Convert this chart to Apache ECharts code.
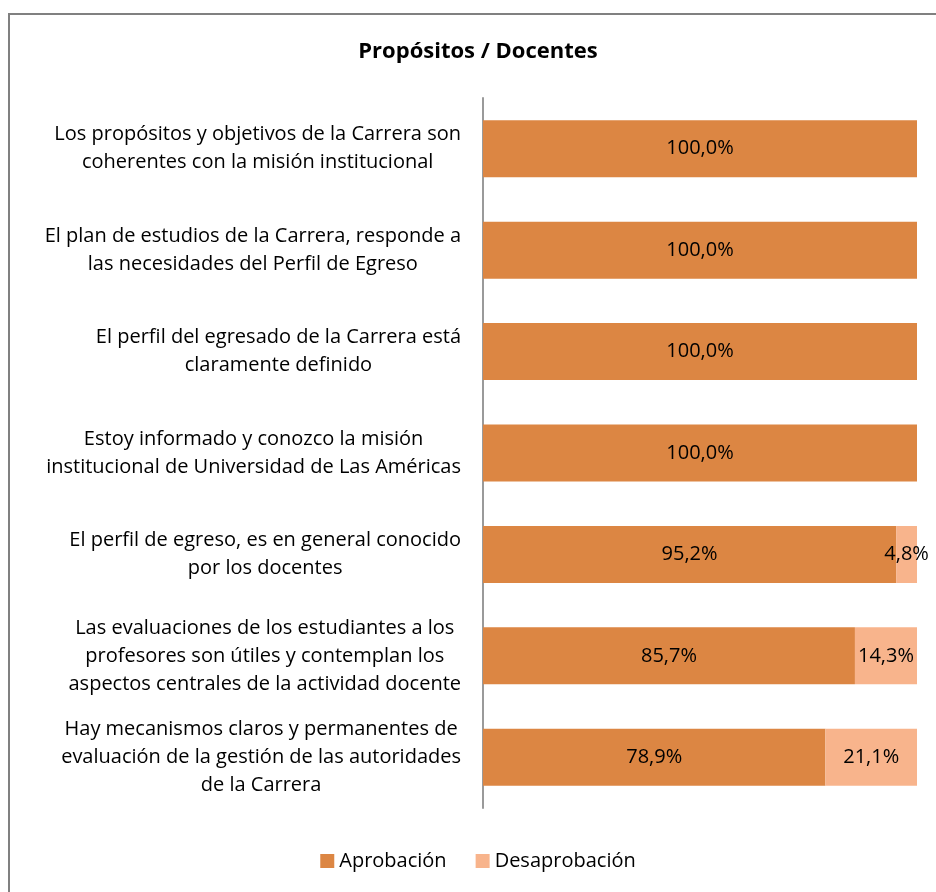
<!DOCTYPE html>
<html>
<head>
<meta charset="utf-8">
<script src="https://cdn.jsdelivr.net/npm/echarts@6/dist/echarts.min.js"></script>
<style>
  html, body { margin: 0; padding: 0; background: #fff; overflow: hidden; }
  #box {
    position: absolute; left: 8px; top: 13px;
    width: 936px; height: 890px;
    border: 2px solid #808080; background: #fff;
  }
  #chart { width: 936px; height: 890px; }
</style>
</head>
<body>
<div id="box"><div id="chart"></div></div>
<script>
// datos
const categories = [
  'Los propósitos y objetivos de la Carrera son\ncoherentes con la misión institucional',
  'El plan de estudios de la Carrera, responde a\nlas necesidades del Perfil de Egreso',
  'El perfil del egresado de la Carrera está\nclaramente definido',
  'Estoy informado y conozco la misión\ninstitucional de Universidad de Las Américas',
  'El perfil de egreso, es en general conocido\npor los docentes',
  'Las evaluaciones de los estudiantes a los\nprofesores son útiles y contemplan los\naspectos centrales de la actividad docente',
  'Hay mecanismos claros y permanentes de\nevaluación de la gestión de las autoridades\nde la Carrera'
]
const aprobacion = [100, 100, 100, 100, 95.2, 85.7, 78.9]
const desaprobacion = [0, 0, 0, 0, 4.8, 14.3, 21.1]
const seriesNames = ['Aprobación', 'Desaprobación']

const FONT = '"Open Sans", "Noto Sans", sans-serif'
const fmtPct = (v) => v.toFixed(1).replace('.', ',') + '%'

const chart = echarts.init(document.getElementById('chart'))

const barLabel = {
  show: true,
  position: 'inside',
  color: '#000',
  fontSize: 20,
  fontFamily: FONT,
  formatter: (p) => p.value > 0 ? fmtPct(p.value) : ''
}

chart.setOption({
  animation: false,
  color: ['#DC8643', '#F8B48C'],
  title: {
    text: 'Propósitos / Docentes',
    left: 'center',
    top: 21,
    textStyle: { fontFamily: FONT, fontSize: 22, fontWeight: 'bold', color: '#000' }
  },
  legend: {
    data: seriesNames,
    left: 'center',
    top: 831,
    itemWidth: 14,
    itemHeight: 14,
    itemGap: 29,
    icon: 'rect',
    textStyle: { fontFamily: FONT, fontSize: 20, color: '#000', padding: [0, 0, 0, 0] }
  },
  grid: { left: 473, right: 29, top: 83, bottom: 97, containLabel: false },
  xAxis: {
    type: 'value',
    min: 0,
    max: 100,
    show: false
  },
  yAxis: {
    type: 'category',
    inverse: true,
    data: categories,
    axisLine: { show: true, lineStyle: { color: '#9a9a9a', width: 2 } },
    axisTick: { show: false },
    axisLabel: {
      align: 'right',
      margin: 22,
      formatter: (v) => v.split('\n').map(l => '{c|' + l + '}').join('\n'),
      rich: {
        c: { align: 'center', fontFamily: FONT, fontSize: 20, lineHeight: 28, color: '#000' }
      }
    }
  },
  series: [
    {
      name: seriesNames[0],
      type: 'bar',
      stack: 'total',
      barWidth: 57,
      data: aprobacion,
      label: barLabel
    },
    {
      name: seriesNames[1],
      type: 'bar',
      stack: 'total',
      barWidth: 57,
      data: desaprobacion,
      label: barLabel
    }
  ]
})
</script>
</body>
</html>
